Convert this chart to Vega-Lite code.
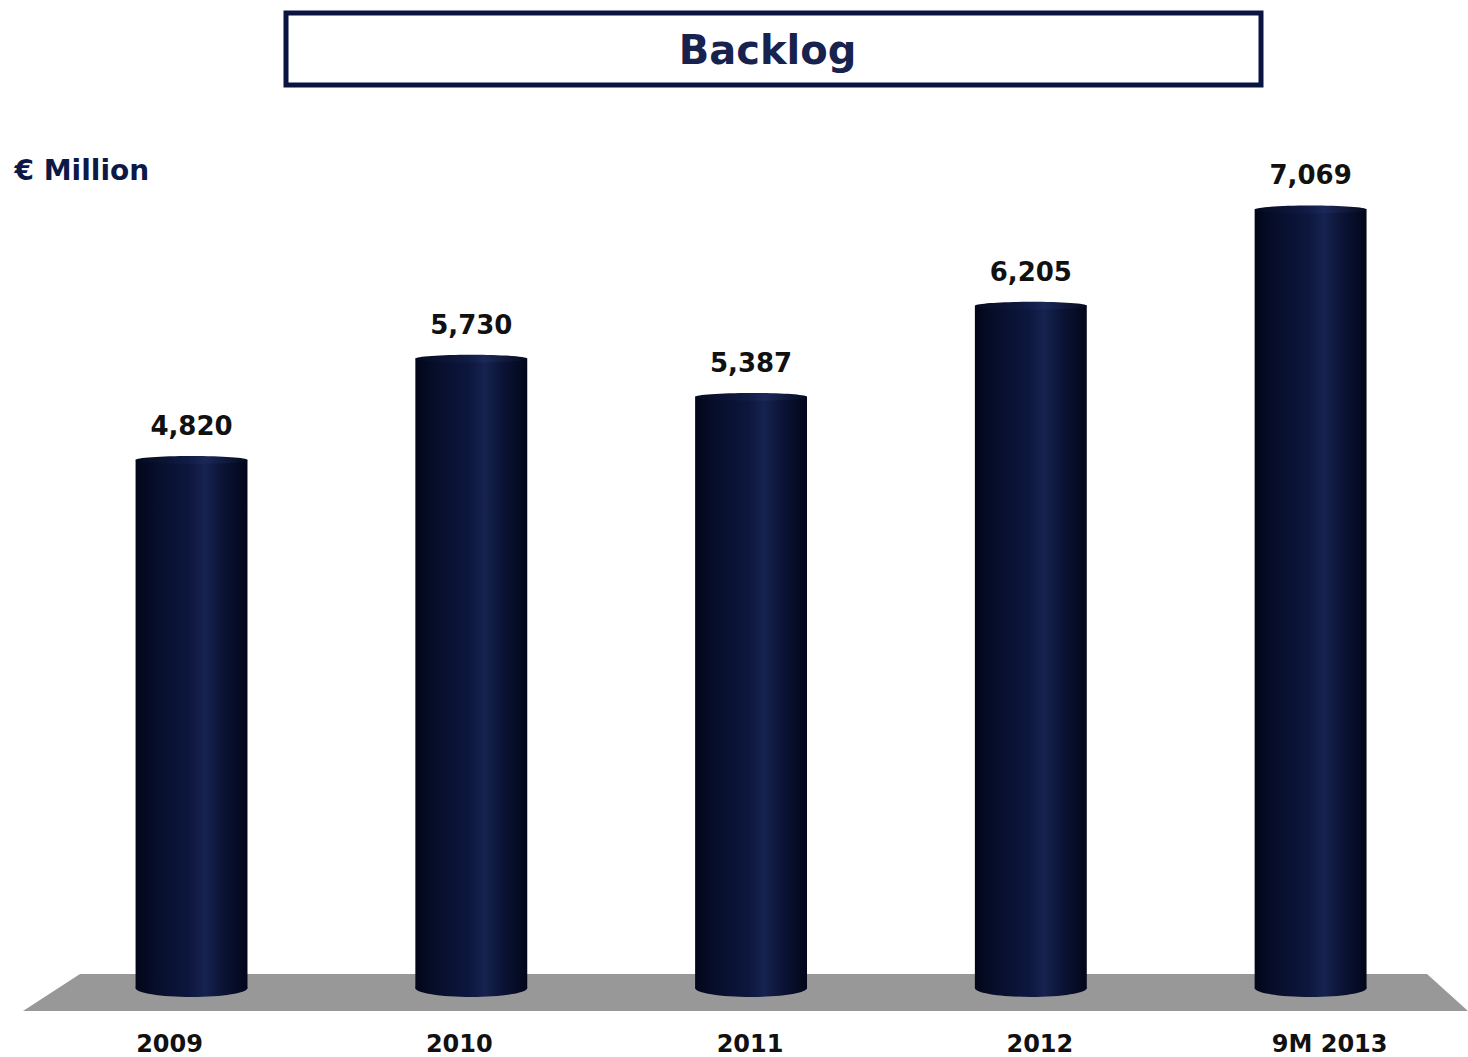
{
  "$schema": "https://vega.github.io/schema/vega-lite/v6.json",
  "padding": {"top": 10, "left": 0, "right": 0, "bottom": 0},
  "background": "white",
  "spacing": 69,
  "datasets": {
    "bars": [
      {"period": "2009", "value": 4820},
      {"period": "2010", "value": 5730},
      {"period": "2011", "value": 5387},
      {"period": "2012", "value": 6205},
      {"period": "9M 2013", "value": 7069}
    ],
    "floor": [
      {"floorX": 23, "floorTop": -126},
      {"floorX": 80, "floorTop": 206},
      {"floorX": 1427, "floorTop": 206},
      {"floorX": 1468, "floorTop": -126}
    ],
    "heading": [{"t": "Backlog"}]
  },
  "vconcat": [
    {
      "spacing": 0,
      "hconcat": [
        {
          "width": 283,
          "height": 72,
          "data": {"name": "heading"},
          "mark": {"type": "text", "opacity": 0, "fontSize": 10},
          "encoding": {"text": {"field": "t"}}
        },
        {
          "width": 975,
          "height": 72,
          "data": {"name": "heading"},
          "view": {"stroke": "#0a1440", "strokeWidth": 5},
          "mark": {"type": "text", "font": "DejaVu Sans", "fontWeight": "bold", "fontSize": 40, "color": "#17224f", "baseline": "middle", "align": "center", "dx": -6, "dy": 3},
          "encoding": {"text": {"field": "t"}}
        }
      ]
    },
    {
      "width": 1468,
      "height": 810,
      "resolve": {"scale": {"x": "independent"}},
      "layer": [
        {
          "data": {"name": "floor"},
          "mark": {"type": "area", "color": "#989898", "opacity": 1, "interpolate": "linear"},
          "encoding": {
            "x": {"field": "floorX", "type": "quantitative", "scale": {"domain": [0, 1468], "nice": false, "zero": false}, "axis": null},
            "y": {"field": "floorTop", "type": "quantitative", "scale": {"domain": [-126, 7145], "nice": false, "zero": false}, "axis": {"title": "€ Million"}},
            "y2": {"datum": -126}
          }
        },
        {
          "data": {"name": "bars"},
          "encoding": {
            "x": {
              "field": "period", "type": "nominal", "sort": null,
              "scale": {"type": "band", "paddingInner": 0.6, "paddingOuter": 0.4236, "align": 0.572},
              "axis": {
                "title": null,
                "labelOffset": {
                  "condition": [
                    {"test": "datum.value === '2009'", "value": -22},
                    {"test": "datum.value === '2010'", "value": -12},
                    {"test": "datum.value === '2011'", "value": -1},
                    {"test": "datum.value === '2012'", "value": 9},
                    {"test": "datum.value === '9M 2013'", "value": 19}
                  ],
                  "value": 0
                }
              }
            },
            "y": {"field": "value", "type": "quantitative", "scale": {"domain": [-126, 7145], "nice": false, "zero": false}, "axis": {"title": "€ Million"}}
          },
          "layer": [
            {
              "mark": {
                "type": "bar", "y2Offset": -9,
                "fill": {"gradient": "linear", "x1": 0, "y1": 0, "x2": 1, "y2": 0,
                  "stops": [
                    {"offset": 0, "color": "#02061a"},
                    {"offset": 0.2, "color": "#070f2c"},
                    {"offset": 0.48, "color": "#0d173e"},
                    {"offset": 0.62, "color": "#16224f"},
                    {"offset": 0.78, "color": "#0b1436"},
                    {"offset": 1, "color": "#02061a"}
                  ]}
              },
              "encoding": {"y2": {"datum": 0}}
            },
            {
              "mark": {
                "type": "point", "filled": true, "opacity": 1, "strokeWidth": 0, "size": 12544, "yOffset": -9,
                "shape": "M-1,0C-1,-0.0883,-0.552,-0.16,0,-0.16C0.552,-0.16,1,-0.0883,1,0C1,0.0883,0.552,0.16,0,0.16C-0.552,0.16,-1,0.0883,-1,0Z",
                "fill": {"gradient": "linear", "x1": 0, "y1": 0, "x2": 1, "y2": 0,
                  "stops": [
                    {"offset": 0, "color": "#02061a"},
                    {"offset": 0.2, "color": "#070f2c"},
                    {"offset": 0.48, "color": "#0d173e"},
                    {"offset": 0.62, "color": "#16224f"},
                    {"offset": 0.78, "color": "#0b1436"},
                    {"offset": 1, "color": "#02061a"}
                  ]}
              },
              "encoding": {"y": {"datum": 0, "type": "quantitative"}}
            },
            {
              "mark": {
                "type": "point", "filled": true, "opacity": 1, "strokeWidth": 0, "size": 12544,
                "shape": "M-1,0C-1,-0.0386,-0.552,-0.07,0,-0.07C0.552,-0.07,1,-0.0386,1,0C1,0.0386,0.552,0.07,0,0.07C-0.552,0.07,-1,0.0386,-1,0Z",
                "fill": {"gradient": "linear", "x1": 0, "y1": 0, "x2": 1, "y2": 0,
                  "stops": [
                    {"offset": 0, "color": "#040a1e"},
                    {"offset": 0.48, "color": "#111c46"},
                    {"offset": 0.62, "color": "#1b2858"},
                    {"offset": 1, "color": "#040a1e"}
                  ]}
              }
            },
            {
              "mark": {"type": "text", "font": "DejaVu Sans", "fontWeight": "bold", "fontSize": 26, "color": "#111111", "baseline": "alphabetic", "align": "center", "dy": -25},
              "encoding": {"text": {"field": "value", "type": "quantitative", "format": ","}}
            }
          ]
        }
      ]
    }
  ],
  "config": {
    "view": {"stroke": null},
    "axisY": {
      "domain": false, "labels": false, "ticks": false, "grid": false,
      "titleAngle": 0, "titleAlign": "left", "titleBaseline": "middle",
      "titleX": 14, "titleY": -30,
      "titleFont": "DejaVu Sans", "titleFontWeight": "bold", "titleFontSize": 28, "titleColor": "#0c1845",
      "minExtent": 0, "maxExtent": 0
    },
    "axisX": {
      "domain": false, "ticks": false, "tickSize": 0, "grid": false, "labelAngle": 0, "labelPadding": 21,
      "labelFont": "DejaVu Sans", "labelFontWeight": "bold", "labelFontSize": 24, "labelColor": "#111111",
      "labelOverlap": false, "labelBound": false
    }
  }
}
